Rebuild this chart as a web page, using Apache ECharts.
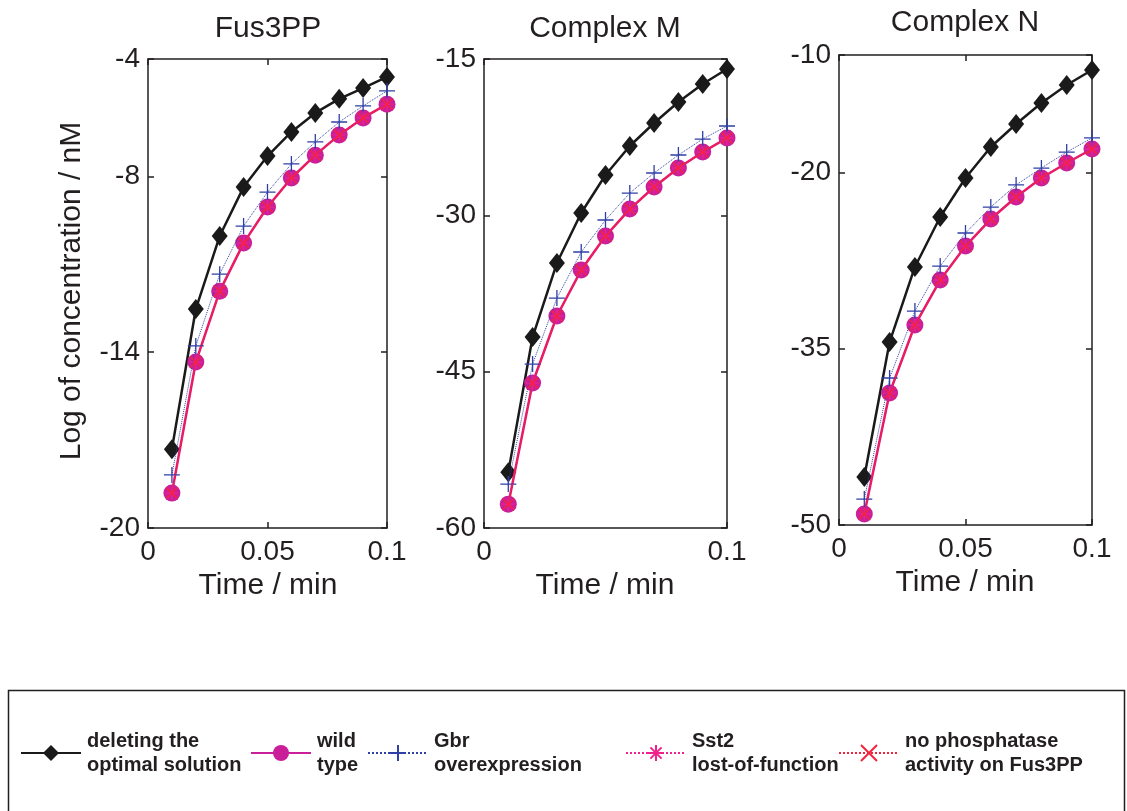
<!DOCTYPE html>
<html>
<head>
<meta charset="utf-8">
<script src="https://cdn.jsdelivr.net/npm/echarts@6/dist/echarts.min.js"></script>
<style>html,body{margin:0;padding:0;background:#fff;}#c{width:1127px;height:811px;}</style>
</head>
<body>
<div id="c"></div>
<script>
// ---- data ----
const times = [0.01, 0.02, 0.03, 0.04, 0.05, 0.06, 0.07, 0.08, 0.09, 0.1];
const panelTitles = ['Fus3PP', 'Complex M', 'Complex N'];
const seriesNames = ['deleting the\noptimal solution', 'wild\ntype', 'Gbr\noverexpression', 'Sst2\nlost-of-function', 'no phosphatase\nactivity on Fus3PP'];

const fusDeleting = [-17.31, -12.53, -10.04, -8.37, -7.31, -6.49, -5.84, -5.36, -4.99, -4.61];
const fusWild     = [-18.81, -14.34, -11.92, -10.28, -9.05, -8.06, -7.28, -6.59, -6.01, -5.54];
const fusGbr      = [-18.19, -13.79, -11.34, -9.70, -8.54, -7.58, -6.83, -6.15, -5.60, -5.09];
const fusSst2     = [-18.81, -14.34, -11.92, -10.28, -9.05, -8.06, -7.28, -6.59, -6.01, -5.54];
const fusNoPhos   = [-18.81, -14.34, -11.92, -10.28, -9.05, -8.06, -7.28, -6.59, -6.01, -5.54];

const cmDeleting = [-54.64, -41.68, -34.58, -29.78, -26.13, -23.35, -21.14, -19.13, -17.40, -15.96];
const cmWild     = [-57.71, -46.09, -39.66, -35.25, -31.99, -29.40, -27.28, -25.46, -23.93, -22.58];
const cmGbr      = [-55.79, -44.27, -37.94, -33.52, -30.45, -27.86, -25.94, -24.21, -22.68, -21.43];
const cmSst2     = [-57.71, -46.09, -39.66, -35.25, -31.99, -29.40, -27.28, -25.46, -23.93, -22.58];
const cmNoPhos   = [-57.71, -46.09, -39.66, -35.25, -31.99, -29.40, -27.28, -25.46, -23.93, -22.58];

const cnDeleting = [-45.91, -34.43, -28.04, -23.79, -20.47, -17.83, -15.87, -14.09, -12.55, -11.28];
const cnWild     = [-49.06, -38.77, -32.98, -29.15, -26.26, -23.96, -22.09, -20.47, -19.19, -18.00];
const cnGbr      = [-47.79, -37.49, -31.79, -27.96, -25.15, -22.94, -21.06, -19.62, -18.26, -17.06];
const cnSst2     = [-49.06, -38.77, -32.98, -29.15, -26.26, -23.96, -22.09, -20.47, -19.19, -18.00];
const cnNoPhos   = [-49.06, -38.77, -32.98, -29.15, -26.26, -23.96, -22.09, -20.47, -19.19, -18.00];

const yMin = [-20, -60, -50];
const yMax = [-4, -15, -10];
const yInterval = [6, 15, 15];
const xInterval = [0.05, 0.1, 0.05];

// ---- layout / styles ----
const FONT = 'Liberation Sans, Arial, Helvetica, sans-serif';
const INK = '#231f20';
const grids = [
  {left: 148, top: 59, width: 239, height: 469},
  {left: 484, top: 59, width: 243, height: 469},
  {left: 839, top: 55, width: 253, height: 470}
];
const panelData = [
  [fusDeleting, fusWild, fusGbr, fusSst2, fusNoPhos],
  [cmDeleting, cmWild, cmGbr, cmSst2, cmNoPhos],
  [cnDeleting, cnWild, cnGbr, cnSst2, cnNoPhos]
];
const PLUS = 'path://M0,7L14,7M7,0L7,14';
const STAR = 'path://M5,0L5,10M0,5L10,5M1.5,1.5L8.5,8.5M8.5,1.5L1.5,8.5';
const XMARK = 'path://M0,0L10,10M10,0L0,10';
const styles = [
  {symbol: 'diamond', symbolSize: [16, 20], lineStyle: {color: '#1a1a1a', width: 2.5, type: 'solid'},
   itemStyle: {color: '#1a1a1a'}, z: 2},
  {symbol: 'circle', symbolSize: 17, lineStyle: {color: '#E0196F', width: 2.5, type: 'solid'},
   itemStyle: {color: '#C9209A'}, z: 3},
  {symbol: PLUS, symbolSize: 16, lineStyle: {color: '#2E3FA6', width: 1, type: 'dotted'},
   itemStyle: {color: 'rgba(0,0,0,0)', borderColor: '#2E3FA6', borderWidth: 1.3}, z: 4},
  {symbol: STAR, symbolSize: 13, lineStyle: {color: '#F0208C', width: 1.2, type: 'dotted'},
   itemStyle: {color: 'rgba(0,0,0,0)', borderColor: '#F0208C', borderWidth: 1.3}, z: 5},
  {symbol: XMARK, symbolSize: 11, lineStyle: {color: '#F2243C', width: 1.2, type: 'dotted'},
   itemStyle: {color: 'rgba(0,0,0,0)', borderColor: '#F2243C', borderWidth: 1.4}, z: 6}
];

const axisLineStyle = {color: INK, width: 1.5};
function makeX(i, pos) {
  return {
    type: 'value', gridIndex: i, position: pos, min: 0, max: 0.1, interval: xInterval[i],
    axisLine: {show: true, onZero: false, lineStyle: axisLineStyle},
    axisTick: {show: true, inside: true, length: 6, lineStyle: axisLineStyle},
    axisLabel: {show: pos === 'bottom', fontSize: 28, color: INK, fontFamily: FONT, margin: 10},
    splitLine: {show: false}
  };
}
function makeY(i, pos) {
  return {
    type: 'value', gridIndex: i, position: pos, min: yMin[i], max: yMax[i], interval: yInterval[i],
    axisLine: {show: true, onZero: false, lineStyle: axisLineStyle},
    axisTick: {show: true, inside: true, length: 6, lineStyle: axisLineStyle},
    axisLabel: {show: pos === 'left', fontSize: 28, color: INK, fontFamily: FONT, margin: 8},
    splitLine: {show: false}
  };
}

const xAxes = [], yAxes = [], series = [];
grids.forEach((g, i) => {
  xAxes.push(makeX(i, 'bottom'), makeX(i, 'top'));
  yAxes.push(makeY(i, 'left'), makeY(i, 'right'));
  panelData[i].forEach((vals, k) => {
    const st = styles[k];
    series.push({
      name: seriesNames[k], type: 'line', xAxisIndex: 2 * i, yAxisIndex: 2 * i,
      data: times.map((t, j) => [t, vals[j]]),
      symbol: st.symbol, symbolSize: st.symbolSize, showAllSymbol: true,
      lineStyle: st.lineStyle, itemStyle: st.itemStyle, z: st.z,
      animation: false, silent: true
    });
  });
});

const legendLefts = [20, 250, 367, 625, 838];
const legends = seriesNames.map((n, k) => {
  const l = {
    data: [n], left: legendLefts[k], top: 729, orient: 'horizontal', padding: 0,
    itemWidth: 60, itemHeight: 20, itemGap: 0, selectedMode: false,
    textStyle: {fontSize: 20, fontWeight: 'bold', color: INK, fontFamily: FONT, lineHeight: 24, padding: [0, 0, 0, 1]}
  };
  if (k === 1) l.lineStyle = {color: '#C9209A'};
  return l;
});

const titleCenters = [[268, 29], [605, 29], [965, 23]];
const xNameCenters = [[268, 586], [605, 586], [965, 583]];
const graphics = [];
panelTitles.forEach((t, i) => {
  graphics.push({type: 'text', x: titleCenters[i][0], y: titleCenters[i][1], silent: true,
    style: {text: t, fill: INK, font: '30px ' + FONT, textAlign: 'center', textVerticalAlign: 'middle'}});
  graphics.push({type: 'text', x: xNameCenters[i][0], y: xNameCenters[i][1], silent: true,
    style: {text: 'Time / min', fill: INK, font: '30px ' + FONT, textAlign: 'center', textVerticalAlign: 'middle'}});
});
graphics.push({type: 'text', x: 72, y: 291, rotation: Math.PI / 2, silent: true,
  style: {text: 'Log of concentration / nM', fill: INK, font: '30px ' + FONT, textAlign: 'center', textVerticalAlign: 'middle'}});
graphics.push({type: 'rect', shape: {x: 8.5, y: 690.5, width: 1116, height: 140}, silent: true,
  style: {fill: 'none', stroke: INK, lineWidth: 1.5}, z: -1});

const chart = echarts.init(document.getElementById('c'), null, {renderer: 'canvas'});
chart.setOption({
  backgroundColor: '#fff',
  animation: false,
  grid: grids.map(g => Object.assign({containLabel: false}, g)),
  xAxis: xAxes,
  yAxis: yAxes,
  legend: legends,
  series: series,
  graphic: graphics
});
</script>
</body>
</html>
